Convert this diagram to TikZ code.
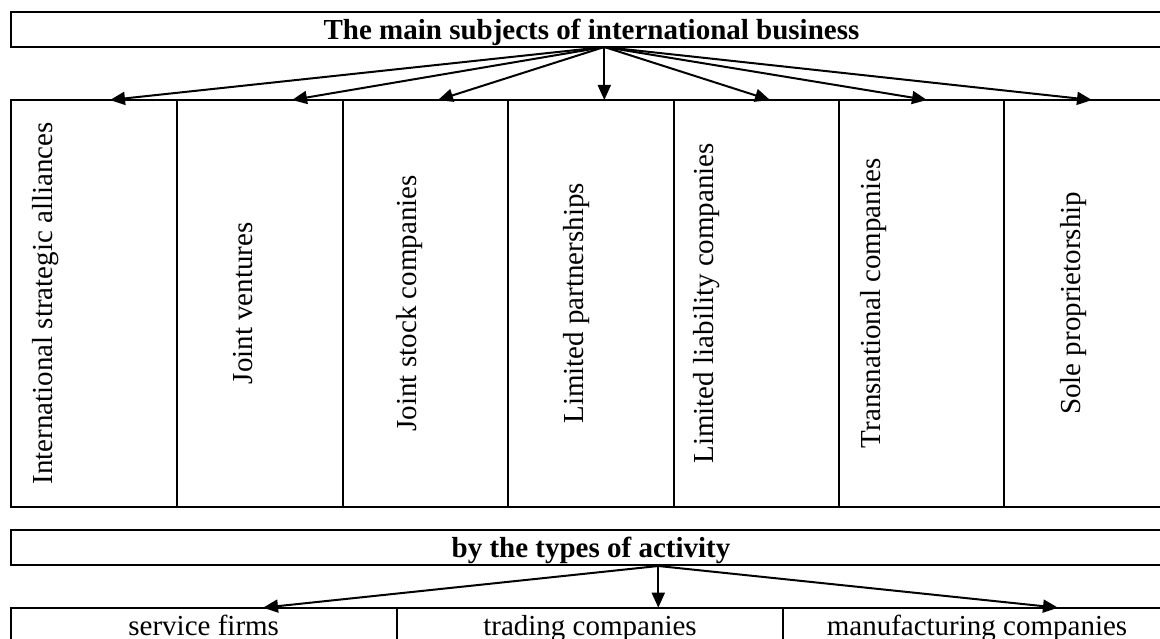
\documentclass[tikz,border=0pt]{standalone}
\usepackage{fontspec}
\setmainfont{Liberation Serif}
\usetikzlibrary{arrows.meta}
\begin{document}
\begin{tikzpicture}[x=1pt,y=-1pt,
  box/.style={draw, line width=2pt, inner sep=0pt, outer sep=0pt, anchor=north west},
  arr/.style={line width=2pt, -{Triangle[length=15pt,width=13pt]}},
  lbl/.style={font=\fontsize{29}{34}\selectfont, inner sep=0pt, anchor=base},
  blbl/.style={lbl, font=\fontsize{29}{34}\selectfont\bfseries},
  vlbl/.style={lbl, rotate=90}]
\useasboundingbox (0,0) rectangle (1160,639);
% top title
\node[box, minimum width=1160.3pt, minimum height=35pt] (title) at (10.7,12) {};
\node[blbl] (titletext) at (591.5,40) {The main subjects of international business};
% columns
\node[box, minimum width=166pt, minimum height=406.7pt] (c1) at (10.7,100) {};
\node[box, minimum width=166pt, minimum height=406.7pt] (c2) at (176.7,100) {};
\node[box, minimum width=165pt, minimum height=406.7pt] (c3) at (342.7,100) {};
\node[box, minimum width=166.3pt, minimum height=406.7pt] (c4) at (507.7,100) {};
\node[box, minimum width=165pt, minimum height=406.7pt] (c5) at (674,100) {};
\node[box, minimum width=165.3pt, minimum height=406.7pt] (c6) at (839,100) {};
\node[box, minimum width=166.7pt, minimum height=406.7pt] (c7) at (1004.3,100) {};
\node[vlbl] (t1) at (52,303.3) {International strategic alliances};
\node[vlbl] (t2) at (252.5,303.3) {Joint ventures};
\node[vlbl] (t3) at (416,303.3) {Joint stock companies};
\node[vlbl] (t4) at (583,303.3) {Limited partnerships};
\node[vlbl] (t5) at (713,303.3) {Limited liability companies};
\node[vlbl] (t6) at (880,303.3) {Transnational companies};
\node[vlbl] (t7) at (1080,303.3) {Sole proprietorship};
% top arrows
\coordinate (o) at (604.3,47);
\coordinate (a1) at (110,100);
\coordinate (a2) at (292,100);
\coordinate (a3) at (438,100);
\coordinate (a4) at (604.3,100);
\coordinate (a5) at (770,100);
\coordinate (a6) at (927,100);
\coordinate (a7) at (1092,100);
\foreach \i in {1,...,7} {\draw[arr] (o) -- (a\i);}
% second title
\node[box, minimum width=1160.3pt, minimum height=35pt] (act) at (10.7,530) {};
\node[blbl] (acttext) at (591,557.3) {by the types of activity};
% bottom row
\node[box, minimum width=386pt, minimum height=40pt] (b1) at (10.7,607.7) {};
\node[box, minimum width=386.6pt, minimum height=40pt] (b2) at (396.7,607.7) {};
\node[box, minimum width=387.7pt, minimum height=40pt] (b3) at (783.3,607.7) {};
\node[lbl] (bt1) at (203.7,635) {service firms};
\node[lbl] (bt2) at (590,635) {trading companies};
\node[lbl] (bt3) at (977,635) {manufacturing companies};
\coordinate (p) at (658.3,566);
\coordinate (d1) at (263,607.7);
\coordinate (d2) at (658.3,607.7);
\coordinate (d3) at (1058,607.7);
\foreach \i in {1,2,3} {\draw[arr] (p) -- (d\i);}
\end{tikzpicture}
\end{document}
